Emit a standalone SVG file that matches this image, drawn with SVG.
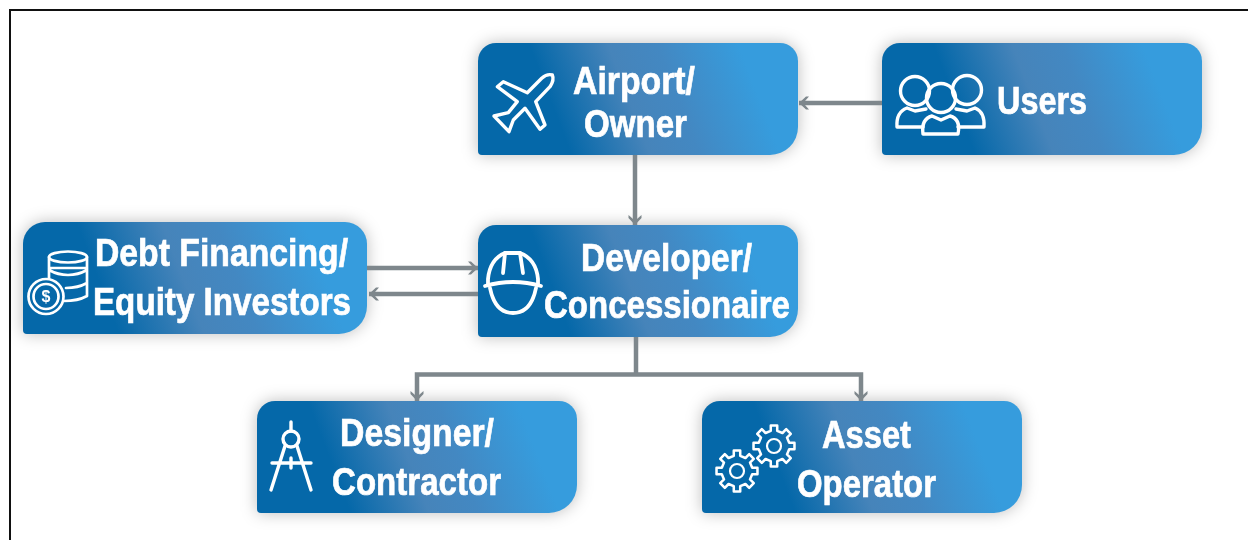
<svg xmlns="http://www.w3.org/2000/svg" xmlns:xlink="http://www.w3.org/1999/xlink" width="1248" height="540" viewBox="0 0 1248 540">
<style>
.t{font-family:"Liberation Sans",Arial,sans-serif;font-weight:700;font-size:39px;fill:#fff;stroke:#fff;stroke-width:0.7px}
.i{fill:none;stroke:#fff;stroke-width:3.4px;stroke-linejoin:round;stroke-linecap:round}
.c{fill:none;stroke:#7e878c;stroke-width:4.5px}
</style>
<defs>
<linearGradient id="g" gradientUnits="userSpaceOnUse" x1="40" y1="56" x2="255" y2="-26">
<stop offset="0.13" stop-color="#0568a9"/><stop offset="0.45" stop-color="#4684ba"/><stop offset="0.65" stop-color="#4388c2"/><stop offset="0.98" stop-color="#369cdd"/>
</linearGradient>
<linearGradient id="gw" gradientUnits="userSpaceOnUse" x1="40" y1="56" x2="273" y2="-33">
<stop offset="0.13" stop-color="#0568a9"/><stop offset="0.45" stop-color="#4684ba"/><stop offset="0.65" stop-color="#4388c2"/><stop offset="0.98" stop-color="#369cdd"/>
</linearGradient>
<filter id="s" x="-12%" y="-35%" width="124%" height="170%"><feGaussianBlur stdDeviation="8"/></filter>
<marker id="a" markerUnits="userSpaceOnUse" markerWidth="14" markerHeight="16" refX="12" refY="8" orient="auto">
<path d="M12 8L5 1.500H2L6 6V10L2 14.500H5Z" fill="#7e878c"/>
</marker>
<path id="b" d="M18 0H302A18 18 0 0 1 320 18V84A28 28 0 0 1 292 112H4A4 4 0 0 1 0 108V18A18 18 0 0 1 18 0Z"/>
<path id="bw" d="M22 0H322A22 22 0 0 1 344 22V84A28 28 0 0 1 316 112H4A4 4 0 0 1 0 108V22A22 22 0 0 1 22 0Z"/>
<polygon id="gear" points="13.2,-2.8 17.8,-2.8 17.8,2.8 13.2,2.8 11.3,7.35 14.6,10.6 10.6,14.6 7.35,11.3 2.8,13.2 2.8,17.8 -2.8,17.8 -2.8,13.2 -7.35,11.3 -10.6,14.6 -14.6,10.6 -11.3,7.35 -13.2,2.8 -17.8,2.8 -17.8,-2.8 -13.2,-2.800 -11.3,-7.35 -14.6,-10.6 -10.6,-14.6 -7.35,-11.3 -2.8,-13.2 -2.8,-17.8 2.8,-17.8 2.8,-13.2 7.35,-11.3 10.6,-14.6 14.6,-10.6 11.3,-7.35"/>
</defs>
<rect width="1248" height="540" fill="#fff"/>
<path d="M10 540V10H1248" fill="none" stroke="#111" stroke-width="2"/>

<g id="shadows" fill="#000" fill-opacity="0.26" filter="url(#s)">
<use xlink:href="#b" x="478" y="43"/><use xlink:href="#b" x="882" y="43"/><use xlink:href="#bw" x="23" y="222"/><use xlink:href="#b" x="478" y="225"/><use xlink:href="#b" x="257" y="401"/><use xlink:href="#b" x="702" y="401"/>
</g>

<g id="connectors">
<path class="c" d="M882 103H799" marker-end="url(#a)"/>
<path class="c" d="M635 155V225" marker-end="url(#a)"/>
<path class="c" d="M367 268H478" marker-end="url(#a)"/>
<path class="c" d="M478 294H369" marker-end="url(#a)"/>
<path class="c" d="M636 337V374.500"/>
<path class="c" d="M636 374.500H417V401" marker-end="url(#a)"/>
<path class="c" d="M636 374.500H861V401" marker-end="url(#a)"/>
</g>

<g id="airport" transform="translate(478 43)">
<use xlink:href="#b" fill="url(#g)"/>
<path class="i" transform="translate(-478 -43)" d="M552.300 75Q547 73.500 541.700 78.300L527.300 92.700L503.300 81.700L497.300 86.700L517.300 101.700L508.300 112.700L494 116L509 131.700L513.300 120L525 108.300L540 129.300L545 125L535.700 101.700L550 86.700Q554.500 80 552.300 75Z"/>
<text class="t" x="95" y="51" textLength="122" lengthAdjust="spacingAndGlyphs">Airport/</text>
<text class="t" x="106" y="94" textLength="103" lengthAdjust="spacingAndGlyphs">Owner</text>
</g>

<g id="users" transform="translate(882 43)">
<use xlink:href="#b" fill="url(#g)"/>
<g class="i" transform="translate(-882 -43)">
<circle cx="915" cy="91" r="14.500"/><circle cx="967" cy="90" r="14.500"/><circle cx="941" cy="98" r="14.500"/>
<path d="M923 134Q921 119 932 116L941 120L950 116Q961 119 958 134Z"/>
<path d="M923 127H897Q896 112 907 108L915 111L926 109"/>
<path d="M958 127H984Q985 112 975 108L967 111L956 109"/>
</g>
<text class="t" x="115" y="71" textLength="90" lengthAdjust="spacingAndGlyphs">Users</text>
</g>

<g id="debt" transform="translate(23 222)">
<use xlink:href="#bw" fill="url(#gw)"/>
<g class="i" transform="translate(-23 -222)" style="stroke-width:2.700px">
<ellipse cx="68" cy="257" rx="19" ry="5.500"/>
<path d="M49 257V270Q58 275 68 275Q78 275 87 270V257M49 270V278M87 270V283Q78 288 66 288M87 283V296Q78 301 64 301M49 268Q58 268 87 268"/>
<circle cx="46" cy="296.500" r="17.500"/><circle cx="46" cy="296.500" r="12.500"/>
</g>
<text x="23" y="80" text-anchor="middle" style="font-family:'Liberation Sans',Arial,sans-serif;font-weight:700;font-size:16px;fill:#fff">$</text>
<text class="t" x="72" y="44" textLength="253" lengthAdjust="spacingAndGlyphs">Debt Financing/</text>
<text class="t" x="70" y="93" textLength="258" lengthAdjust="spacingAndGlyphs">Equity Investors</text>
</g>

<g id="developer" transform="translate(478 225)">
<use xlink:href="#b" fill="url(#g)"/>
<g class="i" transform="translate(-478 -225)" style="stroke-width:3.800px">
<path d="M488 284V279Q490 259 505 253H520Q536 259 538 279V284"/>
<path d="M505 253L503 273M520 253L523 273" />
<path d="M485 286Q513 278 541 286" />
<path d="M490 288Q495 313 513 313Q531 313 536 288"/>
</g>
<text class="t" x="103" y="46" textLength="171" lengthAdjust="spacingAndGlyphs">Developer/</text>
<text class="t" x="66" y="93" textLength="246" lengthAdjust="spacingAndGlyphs">Concessionaire</text>
</g>

<g id="designer" transform="translate(257 401)">
<use xlink:href="#b" fill="url(#g)"/>
<g class="i" transform="translate(-257 -401)">
<path d="M291 422V431"/><circle cx="291" cy="439" r="8"/>
<path d="M285 446L271 490M297 446L311 490M272 463H311M291 458V468"/>
</g>
<text class="t" x="83" y="45" textLength="154" lengthAdjust="spacingAndGlyphs">Designer/</text>
<text class="t" x="75" y="94" textLength="169" lengthAdjust="spacingAndGlyphs">Contractor</text>
</g>

<g id="asset" transform="translate(702 401)">
<use xlink:href="#b" fill="url(#g)"/>
<g class="i" style="stroke-width:2.200px" transform="translate(-702 -401)">
<use xlink:href="#gear" transform="translate(774 446) scale(1.15)"/><circle cx="774" cy="446" r="7"/>
<use xlink:href="#gear" transform="translate(737 471) scale(1.15)"/><circle cx="737" cy="471" r="7"/>
</g>
<text class="t" x="120" y="47" textLength="89" lengthAdjust="spacingAndGlyphs">Asset</text>
<text class="t" x="95" y="96" textLength="139" lengthAdjust="spacingAndGlyphs">Operator</text>
</g>
</svg>
